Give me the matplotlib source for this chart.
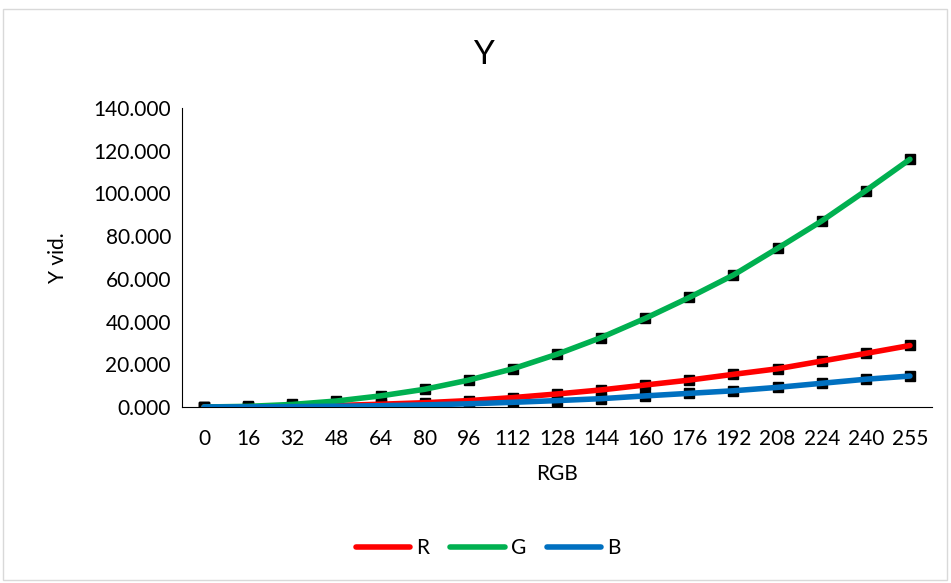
import numpy as np
import matplotlib.pyplot as plt
from matplotlib.patches import Rectangle

plt.rcParams['font.family'] = ['Lato', 'DejaVu Sans']

# dữ liệu
rgb = ['0', '16', '32', '48', '64', '80', '96', '112', '128', '144', '160', '176', '192', '208', '224', '240', '255']
y_r = [0.0, 0.1, 0.3, 0.7, 1.3, 2.0, 3.0, 4.4, 6.1, 8.0, 10.3, 12.6, 15.3, 17.9, 21.5, 25.1, 28.8]
y_g = [0.0, 0.3, 1.2, 2.8, 5.2, 8.3, 12.6, 17.9, 24.7, 32.5, 41.5, 51.3, 61.8, 74.3, 87.1, 101.3, 116.0]
y_b = [0.0, 0.05, 0.15, 0.35, 0.6, 1.0, 1.5, 2.2, 3.0, 3.9, 5.2, 6.4, 7.6, 9.2, 11.1, 13.0, 14.5]

x = np.arange(len(rgb))

fig = plt.figure(figsize=(9.51, 5.83), dpi=100)
ax = fig.add_axes([182/951, 1 - 407/583, (932-182)/951, (407-108)/583])

series = [(y_r, '#FF0000', 'R'), (y_g, '#00B050', 'G'), (y_b, '#0070C0', 'B')]
for ys, c, name in series:
    ax.plot(x, ys, linestyle='none', marker='s', markersize=7, color='black', zorder=2)
for ys, c, name in series:
    ax.plot(x, ys, color=c, linewidth=4, solid_capstyle='round', label=name, zorder=3)

ax.set_xlim(-0.5, 16.5)
ax.set_ylim(0, 140)
ax.set_yticks(np.arange(0, 141, 20))
ax.set_yticklabels([f'{v:.3f}' for v in np.arange(0, 141, 20)])
ax.set_xticks(x)
ax.set_xticklabels(rgb)
ax.tick_params(length=0, labelsize=15)
ax.tick_params(axis='x', pad=16)
ax.tick_params(axis='y', pad=8)
for s in ['top', 'right']:
    ax.spines[s].set_visible(False)
ax.spines['left'].set_color('black')
ax.spines['bottom'].set_color('black')

ax.set_xlabel('RGB', fontsize=15, labelpad=11)
ax.set_ylabel('Y vid.', fontsize=15, labelpad=18)
fig.text(483/951, 1 - 55/583, 'Y', fontsize=24, ha='center', va='center')

fig.legend(loc='center', bbox_to_anchor=(0.5 + 13/951, 1 - 548/583), ncol=3, frameon=False,
           fontsize=15, handlelength=2.6, handletextpad=0.3, columnspacing=1.0)

fig.patches.append(Rectangle((3/951, 3/583), 944/951, 1 - 12/583, transform=fig.transFigure,
                             fill=False, edgecolor='#D9D9D9', linewidth=1))

plt.savefig('out.png', dpi=100)
